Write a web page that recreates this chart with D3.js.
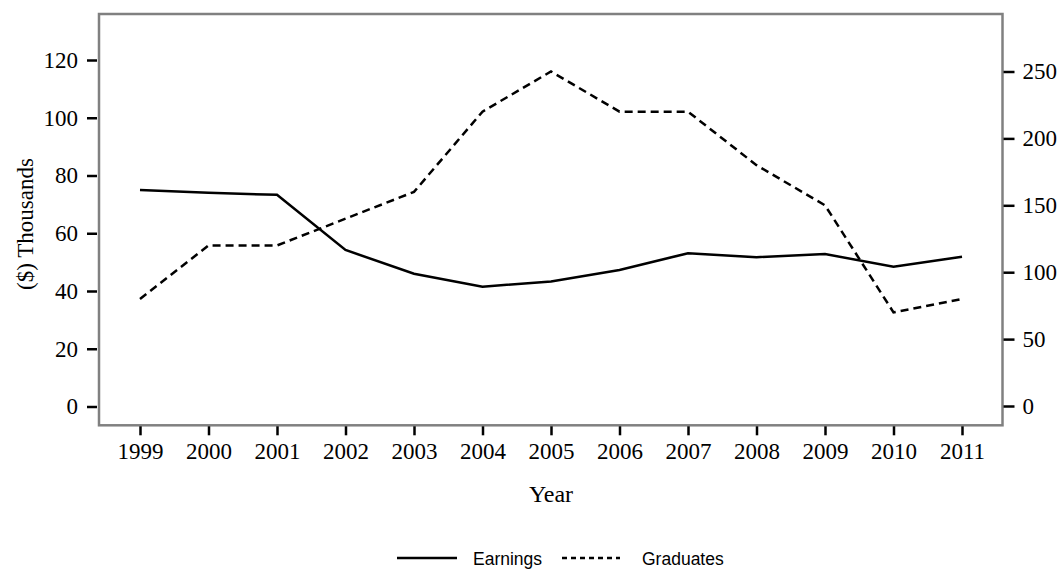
<!DOCTYPE html>
<html>
<head>
<meta charset="utf-8">
<script src="https://cdn.jsdelivr.net/npm/d3@7"></script>
<style>
  html, body { margin: 0; padding: 0; background: #fff; }
  svg { display: block; }
</style>
</head>
<body>
<svg id="chart" width="1062" height="569"></svg>
<script>
// Yearly series: mean earnings (left axis, $ thousands) and number of graduates (right axis)
const years = [1999, 2000, 2001, 2002, 2003, 2004, 2005, 2006, 2007, 2008, 2009, 2010, 2011];
const earnings = [75, 74, 73.3, 54.2, 46, 41.5, 43.3, 47.3, 53.1, 51.7, 52.8, 48.4, 51.9];
const graduates = [80, 120, 120, 140, 160, 220, 250, 220, 220, 180, 150, 70, 80];
const leftTicks = [0, 20, 40, 60, 80, 100, 120];
const rightTicks = [0, 50, 100, 150, 200, 250];
const seriesNames = ["Earnings", "Graduates"];

const svg = d3.select("#chart");
const frame = { left: 99, right: 1002.5, top: 14, bottom: 425.3 };
const serif = "'Liberation Serif', 'Times New Roman', serif";
const sans = "'Liberation Sans', Arial, sans-serif";

const x = d3.scalePoint().domain(years).range([140, 962]);
const yLeft = d3.scaleLinear().domain([0, 120]).range([406.5, 60]);
const yRight = d3.scaleLinear().domain([0, 250]).range([406, 71.5]);

// plot frame
svg.append("rect")
  .attr("x", frame.left).attr("y", frame.top)
  .attr("width", frame.right - frame.left).attr("height", frame.bottom - frame.top)
  .attr("fill", "none").attr("stroke", "#808080").attr("stroke-width", 2.5);

function styleAxis(g) {
  g.select(".domain").remove();
  g.selectAll(".tick line").attr("stroke", "#000").attr("stroke-width", 2.5);
  g.selectAll(".tick text").attr("fill", "#000")
    .style("font-family", serif).style("font-size", "23px");
}

// left axis
svg.append("g")
  .attr("transform", `translate(${frame.left - 2},0)`)
  .call(d3.axisLeft(yLeft).tickValues(leftTicks).tickSize(10).tickPadding(9).tickFormat(d3.format("d")))
  .call(styleAxis);

// right axis
svg.append("g")
  .attr("transform", `translate(${frame.right + 1},0)`)
  .call(d3.axisRight(yRight).tickValues(rightTicks).tickSize(11).tickPadding(8).tickFormat(d3.format("d")))
  .call(styleAxis);

// bottom axis
svg.append("g")
  .attr("transform", `translate(0,${frame.bottom + 1})`)
  .call(d3.axisBottom(x).tickSize(9).tickPadding(7).tickFormat(d3.format("d")))
  .call(styleAxis);

// axis titles
svg.append("text")
  .attr("x", (140 + 962) / 2).attr("y", 501.5)
  .attr("text-anchor", "middle")
  .style("font-family", serif).style("font-size", "24px")
  .text("Year");

svg.append("text")
  .attr("transform", "translate(33,224) rotate(-90)")
  .attr("text-anchor", "middle")
  .style("font-family", serif).style("font-size", "23px")
  .text("($) Thousands");

// series lines
const earnLine = d3.line().x((d, i) => x(years[i])).y(d => yLeft(d));
const gradLine = d3.line().x((d, i) => x(years[i])).y(d => yRight(d));

svg.append("path").datum(earnings)
  .attr("d", earnLine).attr("fill", "none")
  .attr("stroke", "#000").attr("stroke-width", 2.5);

svg.append("path").datum(graduates)
  .attr("d", gradLine).attr("fill", "none")
  .attr("stroke", "#000").attr("stroke-width", 2.5)
  .attr("stroke-dasharray", "8,5");

// legend
const legend = svg.append("g");
const legendItems = [
  { name: seriesNames[0], x0: 397, x1: 457, tx: 473, dash: null },
  { name: seriesNames[1], x0: 562, x1: 620, tx: 642, dash: "5,4" }
];
legendItems.forEach(it => {
  legend.append("line")
    .attr("x1", it.x0).attr("x2", it.x1).attr("y1", 558).attr("y2", 558)
    .attr("stroke", "#000").attr("stroke-width", 2.5)
    .attr("stroke-dasharray", it.dash);
  legend.append("text")
    .attr("x", it.tx).attr("y", 565)
    .style("font-family", sans).style("font-size", "17.5px")
    .text(it.name);
});
</script>
</body>
</html>
